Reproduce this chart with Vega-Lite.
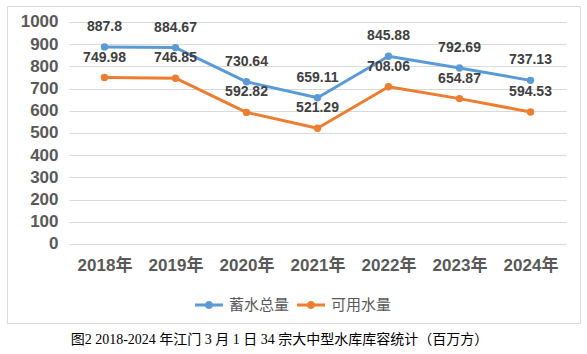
{
  "$schema": "https://vega.github.io/schema/vega-lite/v6.json",
  "width": 573,
  "height": 317,
  "autosize": {"type": "none"},
  "padding": {"left": 7, "top": 6, "right": 7, "bottom": 31},
  "background": "#ffffff",
  "config": {"view": {"stroke": "#d9d9d9", "strokeWidth": 1}, "font": "Liberation Sans"},
  "title": {
    "text": "图2 2018-2024 年江门 3 月 1 日 34 宗大中型水库库容统计（百万方）",
    "orient": "bottom", "anchor": "middle", "offset": 10, "dx": -14,
    "font": "Liberation Serif, Noto Sans CJK SC", "fontSize": 14, "fontWeight": "normal", "color": "#000000"
  },
  "data": {
    "values": [
      {"year": 2018, "series": "蓄水总量", "value": 887.8},
      {"year": 2019, "series": "蓄水总量", "value": 884.67},
      {"year": 2020, "series": "蓄水总量", "value": 730.64},
      {"year": 2021, "series": "蓄水总量", "value": 659.11},
      {"year": 2022, "series": "蓄水总量", "value": 845.88},
      {"year": 2023, "series": "蓄水总量", "value": 792.69},
      {"year": 2024, "series": "蓄水总量", "value": 737.13},
      {"year": 2018, "series": "可用水量", "value": 749.98},
      {"year": 2019, "series": "可用水量", "value": 746.85},
      {"year": 2020, "series": "可用水量", "value": 592.82},
      {"year": 2021, "series": "可用水量", "value": 521.29},
      {"year": 2022, "series": "可用水量", "value": 708.06},
      {"year": 2023, "series": "可用水量", "value": 654.87},
      {"year": 2024, "series": "可用水量", "value": 594.53}
    ]
  },
  "encoding": {
    "x": {
      "field": "year", "type": "quantitative",
      "scale": {"domain": [2016.6268, 2024.6972], "nice": false, "zero": false},
      "axis": {
        "values": [2018, 2019, 2020, 2021, 2022, 2023, 2024],
        "labelExpr": "datum.value + '年'",
        "title": null, "orient": "bottom", "offset": -66,
        "domain": false, "ticks": false, "grid": false, "labelPadding": 0,
        "labelFont": "Liberation Sans, Noto Sans CJK SC", "labelFontSize": 17, "labelFontWeight": "bold",
        "labelColor": "#595959", "labelOverlap": false, "labelFlush": false
      }
    },
    "y": {
      "field": "value", "type": "quantitative",
      "scale": {"domain": [-355.86, 1072.07], "nice": false, "zero": false},
      "axis": {
        "values": [0, 100, 200, 300, 400, 500, 600, 700, 800, 900, 1000],
        "format": "d",
        "title": null, "orient": "left", "offset": -51,
        "domain": false, "ticks": false, "labelPadding": 0,
        "grid": true, "gridColor": "#d9d9d9", "gridWidth": 1, "gridDash": [0, 62, 497, 14],
        "labelFont": "Liberation Sans", "labelFontSize": 17, "labelFontWeight": "bold",
        "labelColor": "#595959", "labelOverlap": false, "labelFlush": false
      }
    }
  },
  "layer": [
    {
      "mark": {"type": "line", "strokeWidth": 3, "strokeJoin": "round", "point": {"filled": true, "size": 55}},
      "encoding": {
        "color": {
          "field": "series", "type": "nominal",
          "scale": {"domain": ["蓄水总量", "可用水量"], "range": ["#5B9BD5", "#ED7D31"]},
          "legend": {
            "title": null, "orient": "none", "legendX": 188, "legendY": 285,
            "direction": "horizontal",
            "symbolType": "M-1,-0.1L1,-0.1L1,0.1L-1,0.1Z M-0.29,0 A0.29,0.29 0 1,1 0.29,0 A0.29,0.29 0 1,1 -0.29,0 Z",
            "symbolSize": 784,
            "labelFont": "Noto Sans CJK SC", "labelFontSize": 15, "labelColor": "#595959",
            "labelOffset": 6, "columnPadding": 7, "padding": 0,
            "encode": {"symbols": {"update": {"fill": {"scale": "color", "field": "value"}, "strokeWidth": {"value": 0}}}}
          }
        }
      }
    },
    {
      "mark": {"type": "text", "dy": -20, "fontSize": 14, "fontWeight": "bold", "color": "#404040", "baseline": "middle", "font": "Liberation Sans"},
      "encoding": {
        "text": {"field": "value", "type": "nominal"}
      }
    }
  ]
}
